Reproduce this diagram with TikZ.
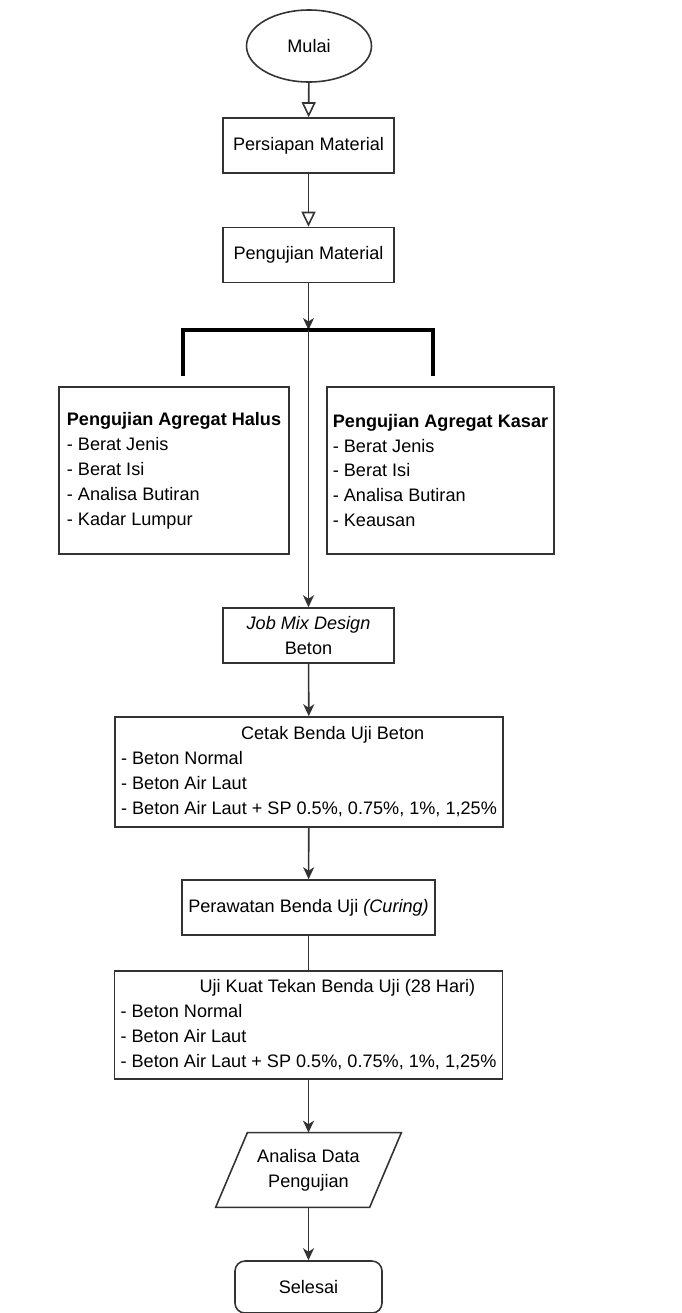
\documentclass[tikz,border=0pt]{standalone}
\usepackage{fontspec}
\setmainfont{Liberation Sans}
\usetikzlibrary{arrows.meta,positioning,shapes.geometric}
\definecolor{linegray}{HTML}{333333}

\begin{document}
\begin{tikzpicture}[
  font=\fontsize{10.3}{14.2}\selectfont,
  box/.style={draw=linegray,line width=0.9pt,minimum height=1.1cm,minimum width=3.42cm,
              inner xsep=0.04cm,align=center},
  testbox/.style={box,align=left,minimum height=3.34cm},
  listbox/.style={box,align=left,minimum width=7.76cm},
  terminal/.style={draw=linegray,line width=0.9pt,ellipse,minimum width=2.5cm,minimum height=1.44cm},
  dataio/.style={minimum width=3.7cm,minimum height=1.48cm,align=center},
  endbox/.style={draw=linegray,line width=0.9pt,rounded corners=0.2cm,minimum width=2.94cm,
                 minimum height=1.04cm},
  openarr/.style={-{Triangle[open,length=0.3cm,width=0.28cm]},line width=0.9pt,color=linegray},
  arr/.style={-{Stealth[length=0.24cm,width=0.22cm,inset=0.07cm]},line width=0.9pt,color=linegray},
  line/.style={line width=0.9pt,color=linegray},
  bracket/.style={line width=1.8pt,color=black}
]
  \useasboundingbox (0,0) rectangle (13.62,-26.26);

  % Start and material preparation
  \node[terminal] (start) at (6.18,-0.92) {Mulai};
  \node[box] (prep) at (6.17,-2.91) {Persiapan Material};
  \node[box] (mattest) at (6.17,-5.10) {Pengujian Material};

  % Split into aggregate tests
  \coordinate (split) at (6.17,-6.60);
  \coordinate (splitL) at (3.66,-6.60);
  \coordinate (splitR) at (8.66,-6.60);
  \node[testbox,minimum width=4.6cm] (fine) at (3.48,-9.41)
    {\textbf{Pengujian Agregat Halus}\\- Berat Jenis\\- Berat Isi\\- Analisa Butiran\\- Kadar Lumpur};
  \node[testbox,minimum width=4.54cm] (coarse) at (8.81,-9.41)
    {\textbf{Pengujian Agregat Kasar}\\- Berat Jenis\\- Berat Isi\\- Analisa Butiran\\- Keausan};

  % Mix design and specimens
  \node[box] (mix) at (6.17,-12.71) {\textit{Job Mix Design}\\Beton};
  \node[listbox,minimum height=2.2cm] (cast) at (6.18,-15.44)
    {\hspace*{2.4cm}Cetak Benda Uji Beton\\- Beton Normal\\- Beton Air Laut\\- Beton Air Laut + SP 0.5\%, 0.75\%, 1\%, 1,25\%};
  \node[box,minimum width=5.06cm] (curing) at (6.17,-18.15) {Perawatan Benda Uji \textit{(Curing)}};
  \node[listbox,minimum height=2.16cm] (strength) at (6.17,-20.50)
    {\hspace*{1.58cm}Uji Kuat Tekan Benda Uji (28 Hari)\\- Beton Normal\\- Beton Air Laut\\- Beton Air Laut + SP 0.5\%, 0.75\%, 1\%, 1,25\%};

  % Analysis and end
  \node[dataio] (analysis) at (6.17,-23.40) {Analisa Data\\Pengujian};
  \draw[line] (analysis.south west) -- ([xshift=3.08cm]analysis.south west)
    -- (analysis.north east) -- ([xshift=-3.08cm]analysis.north east) -- cycle;
  \node[endbox] (finish) at (6.17,-25.74) {Selesai};

  % Arrows
  \draw[openarr] (start) -- (prep);
  \draw[openarr] (prep) -- (mattest);
  \draw[arr] (mattest) -- (split);
  \draw[bracket] ([yshift=-0.92cm]splitL) -- (splitL) -- (splitR) -- ([yshift=-0.92cm]splitR);
  \draw[arr] (split) -- (mix);
  \draw[arr] (mix) -- (cast);
  \draw[arr] (cast) -- (curing);
  \draw[line] (curing) -- (strength);
  \draw[arr] (strength) -- (analysis);
  \draw[arr] (analysis) -- (finish);
\end{tikzpicture}
\end{document}
